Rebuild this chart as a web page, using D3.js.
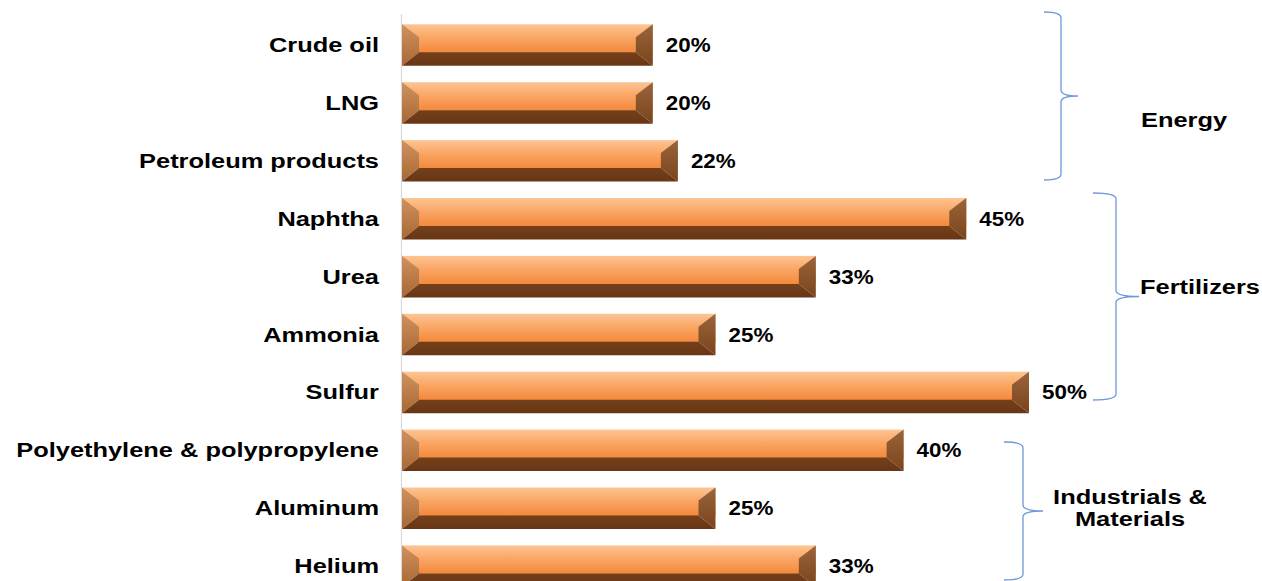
<!DOCTYPE html>
<html>
<head>
<meta charset="utf-8">
<script src="https://cdn.jsdelivr.net/npm/d3@7"></script>
<style>
  html, body { margin: 0; padding: 0; background: #ffffff; }
  svg { display: block; }
  text { font-family: "Liberation Sans", Arial, sans-serif; font-weight: bold; fill: #000; }
</style>
</head>
<body>
<svg id="chart" width="1262" height="581"></svg>
<script>
// Commodity rows, top to bottom
const categories = [
  "Crude oil", "LNG", "Petroleum products",
  "Naphtha", "Urea", "Ammonia", "Sulfur",
  "Polyethylene & polypropylene", "Aluminum", "Helium"
];
// Share for each commodity, in percent
const shares = [20, 20, 22, 45, 33, 25, 50, 40, 25, 33];
const valueLabels = ["20%", "20%", "22%", "45%", "33%", "25%", "50%", "40%", "25%", "33%"];

// Sector groupings shown with braces on the right
const groupNames = ["Energy", "Fertilizers", "Industrials & Materials"];
const groupLabelLines = [["Energy"], ["Fertilizers"], ["Industrials &", "Materials"]];

// Brace geometry (open end x, spine x, tip x, top y, bottom y) and label anchor
const braceLayout = [
  { x0: 1044, xs: 1061, xt: 1078, top: 12,  bottom: 180, lx: 1184, ly: 120 },
  { x0: 1093, xs: 1116, xt: 1139, top: 193, bottom: 400, lx: 1200, ly: 287 },
  { x0: 1004, xs: 1023, xt: 1043, top: 442, bottom: 580, lx: 1130, ly: 508 }
];

const svg = d3.select("#chart");

const x = d3.scaleLinear().domain([0, 50]).range([402, 1029]);
const y = d3.scaleBand()
  .domain(categories)
  .range([16.1, 595.1])
  .paddingInner(0.283)
  .paddingOuter(0.1415);

const FONT = 20;
const CAT_SX = 1.27;   // horizontal stretch of category labels
const VAL_SX = 1.12;   // horizontal stretch of value labels
const GRP_SX = 1.27;   // horizontal stretch of group labels

// Gradients for the bevelled bars
const defs = svg.append("defs");
function vGrad(id, stops) {
  const g = defs.append("linearGradient").attr("id", id)
    .attr("x1", 0).attr("y1", 0).attr("x2", 0).attr("y2", 1);
  stops.forEach(([o, c]) => g.append("stop").attr("offset", o).attr("stop-color", c));
}
vGrad("faceGrad", [[0, "#fdc594"], [0.45, "#faa766"], [1, "#f3883b"]]);
vGrad("leftGrad", [[0, "#cf925f"], [1, "#a86733"]]);
vGrad("rightGrad", [[0, "#9a653c"], [1, "#7a431b"]]);
vGrad("bottomGrad", [[0, "#74401b"], [1, "#693615"]]);

// Axis line and category labels
const axis = d3.axisLeft(y).tickSize(0).tickSizeOuter(0).tickPadding(0);
const axisG = svg.append("g")
  .attr("transform", `translate(${x(0) - 0.5},0)`)
  .call(axis);
axisG.select(".domain")
  .attr("stroke", "#d9d9d9")
  .attr("stroke-width", 1.2)
  .attr("d", `M0,14V581`);
axisG.selectAll(".tick text")
  .attr("font-size", FONT)
  .attr("font-family", "'Liberation Sans', Arial, sans-serif")
  .attr("font-weight", "bold")
  .attr("fill", "#000")
  .attr("text-anchor", "end")
  .attr("x", -22.5 / CAT_SX)
  .attr("dy", "0.35em")
  .attr("transform", `scale(${CAT_SX},1)`);

// Bars
const side = 17, topB = 13, botB = 13.5;
const bars = svg.append("g").selectAll("g.bar")
  .data(categories.map((c, i) => ({ c, v: shares[i], label: valueLabels[i] })))
  .join("g")
  .attr("class", "bar")
  .attr("transform", d => `translate(${x(0)},${y(d.c)})`);

bars.each(function (d) {
  const g = d3.select(this);
  const w = x(d.v) - x(0);
  const h = y.bandwidth();
  g.append("rect").attr("x", 0).attr("y", 0).attr("width", w).attr("height", h - botB + 0.5)
    .attr("fill", "url(#faceGrad)");
  g.append("path")
    .attr("d", `M0,0L${side},${topB}L${side},${h - botB}L0,${h}Z`)
    .attr("fill", "url(#leftGrad)");
  g.append("path")
    .attr("d", `M${w},0L${w - side},${topB}L${w - side},${h - botB}L${w},${h}Z`)
    .attr("fill", "url(#rightGrad)");
  g.append("path")
    .attr("d", `M0,${h}L${side},${h - botB}L${w - side},${h - botB}L${w},${h}Z`)
    .attr("fill", "url(#bottomGrad)");
});

// Value labels
svg.append("g").selectAll("text")
  .data(categories.map((c, i) => ({ c, v: shares[i], label: valueLabels[i] })))
  .join("text")
  .attr("transform", d => `translate(${x(d.v) + 13},${y(d.c) + y.bandwidth() / 2}) scale(${VAL_SX},1)`)
  .attr("dy", "0.35em")
  .attr("font-size", FONT)
  .text(d => d.label);

// Group braces
const braces = svg.append("g");
braceLayout.forEach((b, i) => {
  const r = 6;
  const mid = (b.top + b.bottom) / 2;
  const p = d3.path();
  p.moveTo(b.x0, b.top);
  p.quadraticCurveTo(b.xs, b.top, b.xs, b.top + r);
  p.lineTo(b.xs, mid - r);
  p.quadraticCurveTo(b.xs, mid, b.xt, mid);
  p.quadraticCurveTo(b.xs, mid, b.xs, mid + r);
  p.lineTo(b.xs, b.bottom - r);
  p.quadraticCurveTo(b.xs, b.bottom, b.x0, b.bottom);
  braces.append("path")
    .attr("d", p.toString())
    .attr("fill", "none")
    .attr("stroke", "#6f97dc")
    .attr("stroke-width", 1.3);

  const lines = groupLabelLines[i];
  const lh = 23;
  const t = braces.append("text")
    .attr("transform", `translate(${b.lx},${b.ly - (lines.length - 1) * lh / 2}) scale(${GRP_SX},1)`)
    .attr("text-anchor", "middle")
    .attr("font-size", FONT)
    .attr("aria-label", groupNames[i]);
  lines.forEach((ln, k) => {
    t.append("tspan").attr("x", 0).attr("y", k * lh).attr("dy", "0.35em").text(ln);
  });
});
</script>
</body>
</html>
